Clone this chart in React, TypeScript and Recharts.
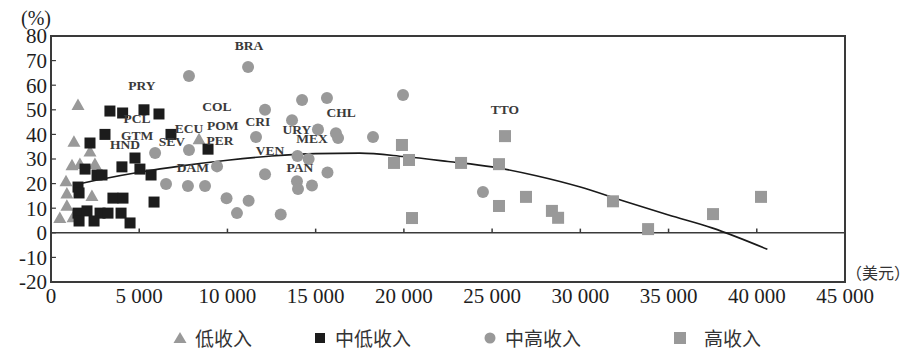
import React from 'react'
import {
  ComposedChart, Scatter, Line, XAxis, YAxis, ReferenceLine, ReferenceArea,
} from 'recharts'

// 低收入 (triangles)
const lowX = [1530, 1300, 1190, 1640, 2210, 2490, 850, 900, 900, 500, 2320, 1250, 8390]
const lowY = [52, 37, 27.5, 28, 33, 28, 21, 16, 11, 6, 15, 6.3, 38]

// 中低收入 (black squares)
const lowMidX = [3340, 4060, 5270, 6120, 3060, 2210, 6800, 8900, 4760, 4020, 5040, 5670, 1930, 2610, 2890, 1530, 1590, 3510, 4080, 5840, 1530, 2040, 2780, 3230, 3970, 1590, 2440, 4480]
const lowMidY = [49.5, 48.7, 50, 48.3, 40, 36.5, 40, 34, 30.4, 26.8, 25.9, 23.5, 25.9, 23.5, 23.5, 18.6, 16.2, 14.1, 14.1, 12.5, 8, 8.9, 8, 8, 8, 4.8, 4.8, 4]

// 中高收入 (circles)
const upMidX = [7820, 5900, 7820, 6520, 7760, 8730, 9410, 9950, 10540, 11200, 11170, 12130, 14230, 15640, 13660, 15130, 16150, 16270, 11620, 18250, 13970, 14600, 12130, 15670, 13940, 14000, 14790, 13020, 19950, 24480]
const upMidY = [63.7, 32.4, 33.7, 19.8, 19, 19, 27, 14, 8, 13, 67.4, 50, 54, 54.8, 45.8, 42, 40.5, 38.5, 38.9, 38.9, 31.2, 30, 23.8, 24.5, 21, 17.8, 19.2, 7.4, 56, 16.6]

// 高收入 (gray squares)
const highX = [19890, 19440, 20290, 20460, 23240, 25730, 25390, 25390, 26920, 28390, 28740, 31850, 33840, 37520, 40240]
const highY = [35.7, 28.4, 29.6, 6, 28.4, 39.3, 27.9, 10.9, 14.6, 8.9, 6.1, 12.8, 1.5, 7.6, 14.6]

// trend curve
const trendX = [1300, 3000, 5000, 7500, 10000, 12500, 15000, 17500, 20000, 22500, 25000, 27500, 30000, 32500, 35000, 37500, 40600]
const trendY = [19.5, 22, 24.6, 27.3, 29.5, 31.2, 32.2, 32.4, 31, 29, 26.8, 23.2, 18.6, 12.8, 7.2, 1.9, -6.7]

const countryNames = ['BRA', 'PRY', 'PCL', 'GTM', 'HND', 'SEV', 'ECU', 'POM', 'COL', 'PER', 'DAM', 'CRI', 'URY', 'MEX', 'CHL', 'VEN', 'PAN', 'TTO']
const countryX = [11220, 5150, 4880, 4880, 4190, 6850, 7820, 9740, 9400, 9580, 8040, 11730, 13940, 14790, 16440, 12410, 14110, 25730]
const countryY = [76, 60, 46.6, 39.7, 35.7, 37, 42.5, 43.8, 51.5, 37.7, 26.7, 45.4, 41.8, 38.5, 48.7, 33.3, 26.7, 50]

const xTicks = [0, 5000, 10000, 15000, 20000, 25000, 30000, 35000, 40000, 45000]
const yTicks = [-20, -10, 0, 10, 20, 30, 40, 50, 60, 70, 80]

const zip = (xs: number[], ys: number[]) => xs.map((x, i) => ({ x, y: ys[i] }))

const lowData = zip(lowX, lowY)
const lowMidData = zip(lowMidX, lowMidY)
const upMidData = zip(upMidX, upMidY)
const highData = zip(highX, highY)
const trendData = zip(trendX, trendY)
const labelData = countryNames.map((name, i) => ({ name, x: countryX[i], y: countryY[i] }))

const GRAY = '#999999'
const DARK = '#1c1c1c'
const AXIS = '#3a3a3a'
const TICK_FONT = { fontSize: 21, fontFamily: 'Liberation Serif', fill: '#1e1e1e' }

const fmt = (v: number) => String(v).replace(/\B(?=(\d{3})+$)/g, ' ')

const Triangle = (p: any) => (
  <polygon points={`${p.cx},${p.cy - 6.5} ${p.cx - 6.5},${p.cy + 5} ${p.cx + 6.5},${p.cy + 5}`} fill={GRAY} />
)
const BlackSquare = (p: any) => <rect x={p.cx - 5.5} y={p.cy - 5.5} width={11} height={11} fill={DARK} />
const GraySquare = (p: any) => <rect x={p.cx - 6} y={p.cy - 6} width={12} height={12} fill={GRAY} />
const Dot = (p: any) => <circle cx={p.cx} cy={p.cy} r={6} fill={GRAY} />
const CountryLabel = (p: any) => (
  <text x={p.cx} y={p.cy} textAnchor="middle" dominantBaseline="central"
    fontFamily="Liberation Serif" fontWeight="bold" fontSize={13.5} fill="#3a3a3a">
    {p.payload.name}
  </text>
)

const legendItems = [
  { name: '低收入', icon: 'tri', iconX: 180, textX: 195 },
  { name: '中低收入', icon: 'sqb', iconX: 320, textX: 335 },
  { name: '中高收入', icon: 'dot', iconX: 490, textX: 505 },
  { name: '高收入', icon: 'sqg', iconX: 680, textX: 704 },
]

function LegendIcon({ kind }: { kind: string }) {
  if (kind === 'tri') return <svg width={14} height={14}><polygon points="7,1 0.5,12 13.5,12" fill={GRAY} /></svg>
  if (kind === 'sqb') return <svg width={14} height={14}><rect x={2} y={2} width={10} height={10} fill={DARK} /></svg>
  if (kind === 'dot') return <svg width={14} height={14}><circle cx={7} cy={7} r={5.5} fill={GRAY} /></svg>
  return <svg width={14} height={14}><rect x={1} y={1} width={12} height={12} fill={GRAY} /></svg>
}

export default function App() {
  return (
    <div style={{ position: 'absolute', left: 0, top: 0, width: 913, height: 350, background: '#fff', fontFamily: 'Liberation Serif' }}>
      <ComposedChart width={913} height={350} margin={{ top: 36, right: 68, left: 0, bottom: 0 }}>
        <XAxis dataKey="x" type="number" domain={[0, 45000]} ticks={xTicks} tickFormatter={fmt}
          axisLine={false} tickLine={false} tickSize={0} tickMargin={6} height={68} interval={0}
          tick={TICK_FONT} allowDataOverflow />
        <YAxis dataKey="y" type="number" domain={[-20, 80]} ticks={yTicks} interval={0}
          axisLine={false} tickLine={false} tickSize={0} tickMargin={4} width={51}
          tick={TICK_FONT} allowDataOverflow />
        <ReferenceLine y={0} stroke={AXIS} strokeWidth={1.5} />
        {xTicks.slice(1, -1).map(t => (
          <ReferenceLine key={'xt' + t} segment={[{ x: t, y: 0 }, { x: t, y: 1.7 }]} stroke={AXIS} strokeWidth={1.5} />
        ))}
        {yTicks.slice(1, -1).map(t => (
          <ReferenceLine key={'yt' + t} segment={[{ x: 0, y: t }, { x: 280, y: t }]} stroke={AXIS} strokeWidth={1.2} />
        ))}
        <Scatter name="低收入" data={lowData} dataKey="y" shape={Triangle} isAnimationActive={false} />
        <Scatter name="中低收入" data={lowMidData} dataKey="y" shape={BlackSquare} isAnimationActive={false} />
        <Scatter name="中高收入" data={upMidData} dataKey="y" shape={Dot} isAnimationActive={false} />
        <Scatter name="高收入" data={highData} dataKey="y" shape={GraySquare} isAnimationActive={false} />
        <Line data={trendData} dataKey="y" type="monotone" stroke="#1a1a1a" strokeWidth={1.6} dot={false} isAnimationActive={false} />
        <Scatter data={labelData} dataKey="y" shape={CountryLabel} isAnimationActive={false} />
        <ReferenceArea x1={0} x2={45000} y1={-20} y2={80} fill="none" stroke={AXIS} strokeWidth={2} ifOverflow="visible" />
      </ComposedChart>
      <div style={{ position: 'absolute', left: 21, top: 8, fontSize: 20, lineHeight: '20px', color: '#1e1e1e' }}>(%)</div>
      <div style={{ position: 'absolute', left: 846, top: 262, fontSize: 16, lineHeight: '20px', color: '#333', fontFamily: '"Noto Sans CJK SC"' }}>（美元）</div>
      {legendItems.map(item => (
        <React.Fragment key={item.name}>
          <div style={{ position: 'absolute', left: item.iconX - 7, top: 331, width: 14, height: 14, lineHeight: 0 }}>
            <LegendIcon kind={item.icon} />
          </div>
          <div style={{ position: 'absolute', left: item.textX, top: 328, fontSize: 19, lineHeight: '19px', color: '#333', fontFamily: '"Noto Sans CJK SC"' }}>
            {item.name}
          </div>
        </React.Fragment>
      ))}
    </div>
  )
}
